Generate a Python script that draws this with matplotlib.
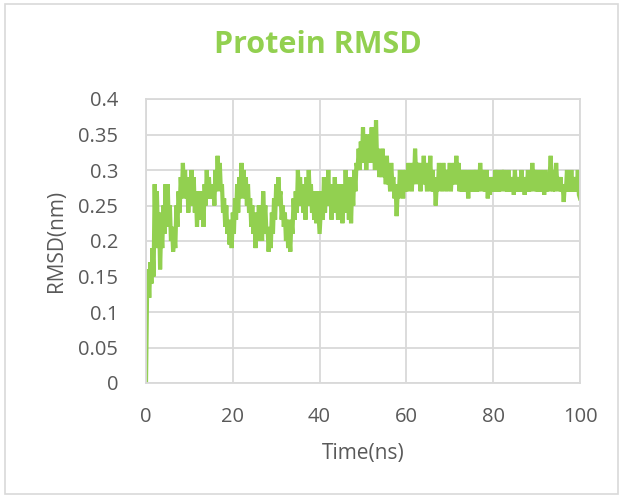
import numpy as np
import matplotlib
matplotlib.use("Agg")
import matplotlib.pyplot as plt
from matplotlib.patches import Rectangle

# RMSD (nm), one value every 0.25 ns
rmsd = [
    0.00, 0.13, 0.16, 0.12, 0.17, 0.14, 0.19, 0.15, 0.28, 0.19, 0.27, 0.21, 0.24, 0.16, 0.22, 0.19, 0.25, 0.21, 0.28, 0.22,
    0.28, 0.22, 0.25, 0.20, 0.22, 0.185, 0.21, 0.19, 0.25, 0.22, 0.27, 0.24, 0.29, 0.26, 0.31, 0.27, 0.30, 0.26, 0.29, 0.24,
    0.28, 0.25, 0.30, 0.26, 0.29, 0.24, 0.27, 0.22, 0.26, 0.23, 0.27, 0.24, 0.26, 0.22, 0.28, 0.25, 0.30, 0.26, 0.29, 0.26,
    0.28, 0.26, 0.28, 0.25, 0.30, 0.27, 0.32, 0.28, 0.31, 0.27, 0.28, 0.24, 0.26, 0.22, 0.25, 0.21, 0.23, 0.195, 0.22, 0.19,
    0.24, 0.21, 0.26, 0.23, 0.28, 0.24, 0.29, 0.26, 0.31, 0.27, 0.30, 0.26, 0.29, 0.25, 0.28, 0.24, 0.26, 0.22, 0.25, 0.21,
    0.23, 0.19, 0.24, 0.20, 0.25, 0.21, 0.23, 0.20, 0.27, 0.23, 0.25, 0.21, 0.22, 0.185, 0.21, 0.19, 0.24, 0.21, 0.26, 0.23,
    0.28, 0.25, 0.29, 0.26, 0.27, 0.23, 0.25, 0.22, 0.24, 0.20, 0.23, 0.19, 0.21, 0.185, 0.23, 0.21, 0.26, 0.23, 0.27, 0.24,
    0.30, 0.26, 0.29, 0.25, 0.28, 0.24, 0.27, 0.23, 0.29, 0.25, 0.30, 0.26, 0.28, 0.24, 0.27, 0.23, 0.26, 0.225, 0.27, 0.24,
    0.21, 0.24, 0.27, 0.23, 0.29, 0.24, 0.28, 0.25, 0.30, 0.25, 0.27, 0.23, 0.28, 0.24, 0.29, 0.25, 0.27, 0.23, 0.28, 0.24,
    0.28, 0.225, 0.27, 0.24, 0.30, 0.25, 0.28, 0.23, 0.29, 0.225, 0.28, 0.25, 0.30, 0.27, 0.31, 0.30, 0.33, 0.30, 0.34, 0.31,
    0.36, 0.31, 0.35, 0.30, 0.34, 0.31, 0.35, 0.32, 0.36, 0.31, 0.34, 0.30, 0.37, 0.31, 0.33, 0.29, 0.32, 0.29, 0.33, 0.29,
    0.31, 0.28, 0.32, 0.28, 0.30, 0.27, 0.31, 0.28, 0.29, 0.26, 0.28, 0.235, 0.27, 0.26, 0.30, 0.27, 0.29, 0.26, 0.30, 0.27,
    0.30, 0.27, 0.31, 0.28, 0.30, 0.27, 0.31, 0.28, 0.33, 0.29, 0.31, 0.28, 0.31, 0.27, 0.30, 0.28, 0.32, 0.28, 0.30, 0.27,
    0.31, 0.28, 0.32, 0.27, 0.30, 0.27, 0.29, 0.25, 0.28, 0.27, 0.31, 0.28, 0.30, 0.27, 0.31, 0.28, 0.30, 0.27, 0.30, 0.28,
    0.31, 0.27, 0.30, 0.28, 0.31, 0.28, 0.32, 0.28, 0.31, 0.27, 0.30, 0.27, 0.29, 0.27, 0.30, 0.27, 0.29, 0.26, 0.30, 0.27,
    0.29, 0.27, 0.30, 0.27, 0.30, 0.27, 0.29, 0.27, 0.31, 0.28, 0.30, 0.27, 0.29, 0.27, 0.30, 0.26, 0.29, 0.265, 0.29, 0.27,
    0.29, 0.27, 0.30, 0.27, 0.30, 0.27, 0.29, 0.27, 0.30, 0.28, 0.30, 0.27, 0.29, 0.27, 0.30, 0.27, 0.29, 0.27, 0.29, 0.265,
    0.30, 0.27, 0.29, 0.27, 0.29, 0.27, 0.30, 0.27, 0.29, 0.265, 0.29, 0.27, 0.30, 0.27, 0.29, 0.27, 0.31, 0.28, 0.30, 0.27,
    0.30, 0.27, 0.29, 0.27, 0.30, 0.27, 0.29, 0.265, 0.30, 0.27, 0.29, 0.27, 0.29, 0.32, 0.28, 0.27, 0.30, 0.27, 0.31, 0.28,
    0.29, 0.27, 0.29, 0.27, 0.28, 0.255, 0.28, 0.27, 0.30, 0.27, 0.29, 0.27, 0.30, 0.27, 0.29, 0.27, 0.29, 0.27, 0.30, 0.265,
    0.26,
]
time_ns = np.linspace(0, 100, len(rmsd))

x_ticks = [0, 20, 40, 60, 80, 100]
y_ticks = [0, 0.05, 0.1, 0.15, 0.2, 0.25, 0.3, 0.35, 0.4]
y_labels = ["0", "0.05", "0.1", "0.15", "0.2", "0.25", "0.3", "0.35", "0.4"]

green = "#92D050"
grid_c = "#D9D9D9"
text_c = "#595959"

plt.rcParams["font.family"] = ["Open Sans", "DejaVu Sans"]

fig = plt.figure(figsize=(6.24, 4.96), dpi=100)
# chart border
fig.patches.append(Rectangle((5 / 624, 2 / 496), 613 / 624, 490 / 496,
                             transform=fig.transFigure, fill=False,
                             edgecolor=grid_c, linewidth=1.2))

ax = fig.add_axes([146 / 624, 1 - 383 / 496, 434 / 624, 284 / 496])
ax.plot(time_ns, rmsd, color=green, linewidth=3.0, solid_joinstyle="miter")

ax.set_xlim(0, 100)
ax.set_ylim(0, 0.4)
ax.set_xticks(x_ticks)
ax.set_yticks(y_ticks)
ax.set_yticklabels(y_labels)
ax.grid(True, color=grid_c, linewidth=1.3)
ax.set_axisbelow(True)
for s in ax.spines.values():
    s.set_color(grid_c)
    s.set_linewidth(1.3)
ax.tick_params(length=0, labelsize=14.5, colors=text_c)
ax.tick_params(axis="x", pad=17)
ax.tick_params(axis="y", pad=20)

ax.set_xlabel("Time(ns)", fontsize=15, color=text_c, labelpad=12)
ax.set_ylabel("RMSD(nm)", fontsize=15, color=text_c, labelpad=8)

fig.text(318 / 624, 1 - 45 / 496, "Protein RMSD", ha="center", va="center",
         fontsize=22, fontweight="bold", color=green)

fig.savefig("out.png", dpi=100)
